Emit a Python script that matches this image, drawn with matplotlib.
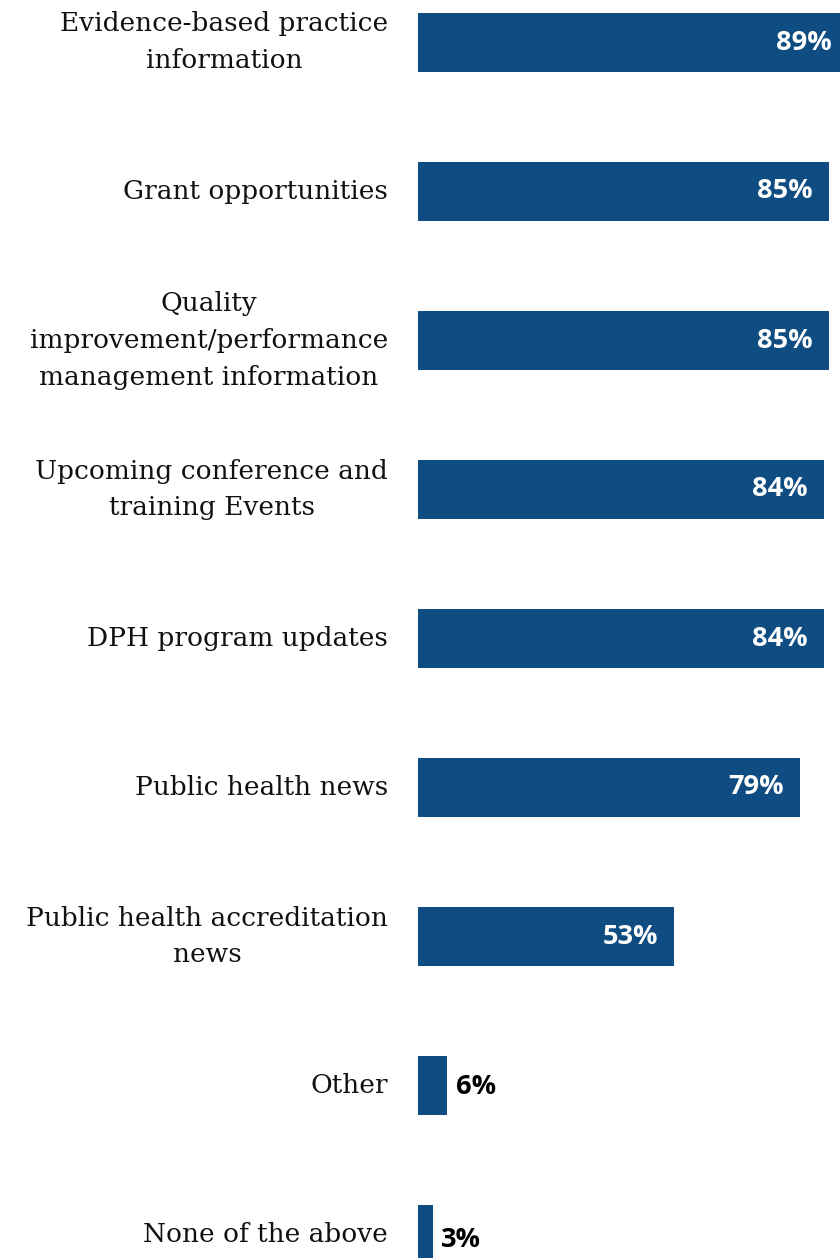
import matplotlib
matplotlib.use("Agg")
import matplotlib.pyplot as plt

categories = [
    "Evidence-based practice\ninformation",
    "Grant opportunities",
    "Quality\nimprovement/performance\nmanagement information",
    "Upcoming conference and\ntraining Events",
    "DPH program updates",
    "Public health news",
    "Public health accreditation\nnews",
    "Other",
    "None of the above",
]
values = [89, 85, 85, 84, 84, 79, 53, 6, 3]

W, H = 840, 1258
fig = plt.figure(figsize=(W / 100, H / 100), dpi=100)
px_per_pct = 4.835
ax_left = 418
ax_w = 100 * px_per_pct
step = 149
top_px = 42.5 - step / 2
ax_h = step * len(values)
ax = fig.add_axes([ax_left / W, (H - top_px - ax_h) / H, ax_w / W, ax_h / H])
ax.set_xlim(0, 100)
ax.set_ylim(len(values) - 0.5, -0.5)

color = "#0F4C81"
y = list(range(len(values)))
ax.barh(y, values, height=59 / step, color=color, clip_on=False)

pct_font = dict(fontsize=19.5, fontweight="bold", family=["Open Sans", "DejaVu Sans"])
for i, (v, lab) in enumerate(zip(values, categories)):
    if v > 20:
        ax.text(v - 3.4, i, f"{v}%", ha="right", va="center", color="white",
                clip_on=False, **pct_font)
    else:
        ax.text(v + 1.8, i + (0.04 if i == len(values) - 1 else 0.01), f"{v}%", ha="left",
                va="center", color="black", clip_on=False, **pct_font)
    ax.text(-6.2, i, lab, ha="right", va="center", multialignment="center",
            fontsize=19, family=["DejaVu Serif"], color="#111111",
            linespacing=1.6)

ax.axis("off")
fig.savefig("out.png", dpi=100)
